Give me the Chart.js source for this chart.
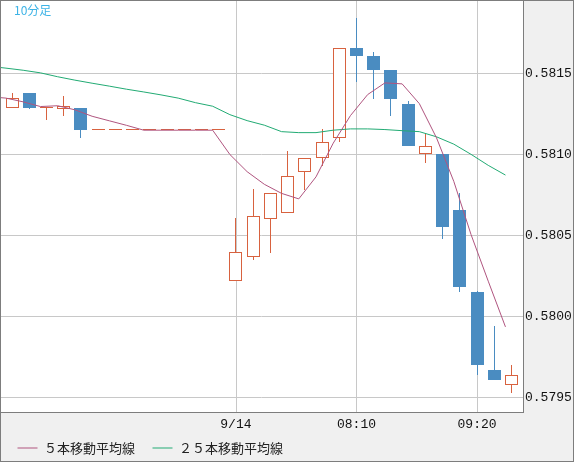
<!DOCTYPE html>
<html lang="ja">
<head>
<meta charset="utf-8">
<title>10分足</title>
<script src="https://cdn.jsdelivr.net/npm/chart.js@4/dist/chart.umd.min.js"></script>
<style>
  html, body { margin: 0; padding: 0; background: #f0f0f0; overflow: hidden; }
  canvas { display: block; }
</style>
</head>
<body>
<canvas id="fxChart" width="574" height="462"></canvas>
<script>
// ===== ローソク足（10分足）=====
const openP  = [0.58129, 0.58138, 0.58129, 0.58128, 0.58129,
                0.58115, 0.58115, 0.58115, 0.58115, 0.58115, 0.58115, 0.58115, 0.58115,
                0.58022, 0.58037, 0.58060, 0.58064, 0.58089, 0.58098, 0.58110, 0.58166,
                0.58161, 0.58152, 0.58131, 0.58100, 0.58100, 0.58066, 0.58015, 0.57967, 0.57958];
const highP  = [0.58138, 0.58138, 0.58129, 0.58136, 0.58129,
                0.58115, 0.58115, 0.58115, 0.58115, 0.58115, 0.58115, 0.58115, 0.58115,
                0.58061, 0.58079, 0.58076, 0.58102, 0.58098, 0.58116, 0.58166, 0.58184,
                0.58163, 0.58152, 0.58133, 0.58113, 0.58100, 0.58076, 0.58016, 0.57994, 0.57970];
const lowP   = [0.58129, 0.58128, 0.58121, 0.58124, 0.58110,
                0.58115, 0.58115, 0.58115, 0.58115, 0.58115, 0.58115, 0.58115, 0.58115,
                0.58022, 0.58035, 0.58039, 0.58064, 0.58078, 0.58093, 0.58108, 0.58145,
                0.58134, 0.58124, 0.58105, 0.58095, 0.58048, 0.58015, 0.57964, 0.57961, 0.57953];
const closeP = [0.58135, 0.58129, 0.58129, 0.58130, 0.58115,
                0.58115, 0.58115, 0.58115, 0.58115, 0.58115, 0.58115, 0.58115, 0.58115,
                0.58040, 0.58062, 0.58076, 0.58087, 0.58098, 0.58108, 0.58166, 0.58161,
                0.58152, 0.58134, 0.58105, 0.58105, 0.58055, 0.58018, 0.57970, 0.57961, 0.57964];

// ===== 移動平均（先頭は画面左外の1本前から）=====
const ma5  = [0.581357, 0.581348, 0.581325, 0.581296, 0.581301, 0.581276, 0.581236, 0.581208,
              0.581180, 0.581150, 0.581150, 0.581150, 0.581150, 0.581150, 0.581000, 0.580894,
              0.580816, 0.580760, 0.580726, 0.580862, 0.581070, 0.581240, 0.581370, 0.581442,
              0.581436, 0.581314, 0.581102, 0.580834, 0.580506, 0.580218, 0.579936];
const ma25 = [0.581545, 0.581533, 0.581520, 0.581504, 0.581480, 0.581459, 0.581440, 0.581422,
              0.581403, 0.581386, 0.581368, 0.581348, 0.581320, 0.581298, 0.581246, 0.581209,
              0.581181, 0.581141, 0.581135, 0.581135, 0.581150, 0.581158, 0.581158, 0.581154,
              0.581147, 0.581141, 0.581109, 0.581064, 0.581001, 0.580933, 0.580873];

// ===== 目盛 =====
const yTicks    = [0.5795, 0.5800, 0.5805, 0.5810, 0.5815];
const xTickIdx  = [13, 20, 27];
const xTickText = ['9/14', '08:10', '09:20'];

// ===== 色 =====
const UP = '#d8623f';
const DOWN = '#4a8cc1';
const GRID = '#c8c8c8';
const FRAME = '#7d7d7d';
const MA_SHIFT = -0.35;   // 移動平均線はローソクの左端に描かれている

const candleColor = openP.map((o, i) => closeP[i] < o ? DOWN : UP);
const bodyFill = openP.map((o, i) => closeP[i] < o ? DOWN : (closeP[i] > o ? '#ffffff' : UP));

const wickData = lowP.map((l, i) => ({ x: i, y: [l, highP[i]] }));
const bodyData = openP.map((o, i) => ({ x: i, y: [o, closeP[i]] }));
const ma5Data  = ma5.map((v, k) => ({ x: k - 1 + MA_SHIFT, y: v }));
const ma25Data = ma25.map((v, k) => ({ x: k - 1 + MA_SHIFT, y: v }));

const monoFont = { family: '"Liberation Mono", "DejaVu Sans Mono", monospace', size: 13 };

// 目盛ラベル分の余白を詰める
function noPad(s) {
  s.paddingTop = 0; s.paddingBottom = 0;
  s.paddingLeft = 0; s.paddingRight = 0;
}

// ===== ローソクをピクセルに合わせる =====
const snapPlugin = {
  id: 'snap',
  afterDatasetsUpdate(chart) {
    chart.data.datasets.forEach((ds, i) => {
      const meta = chart.getDatasetMeta(i);
      if (meta.type !== 'bar') return;
      meta.data.forEach(el => {
        el.x = Math.floor(el.x) + 0.5;
        el.y = Math.round(el.y);
        el.base = Math.round(el.base);
      });
    });
  }
};

// ===== 背景・枠・タイトル =====
const framePlugin = {
  id: 'frame',
  beforeDraw(chart) {
    const { ctx, chartArea: a, width, height } = chart;
    ctx.save();
    ctx.fillStyle = '#f0f0f0';
    ctx.fillRect(0, 0, width, height);
    ctx.fillStyle = '#ffffff';
    ctx.fillRect(a.left, a.top, a.right - a.left, a.bottom - a.top);
    ctx.restore();
  },
  // 時刻の縦線は x 軸の目盛位置から引く
  beforeDatasetsDraw(chart) {
    const { ctx, chartArea: a, scales } = chart;
    ctx.save();
    ctx.strokeStyle = GRID;
    ctx.lineWidth = 1;
    ctx.beginPath();
    scales.x.ticks.forEach(t => {
      const px = Math.round(scales.x.getPixelForValue(t.value)) + 0.5;
      ctx.moveTo(px, a.top);
      ctx.lineTo(px, a.bottom);
    });
    ctx.stroke();
    ctx.restore();
  },
  afterDraw(chart) {
    const { ctx, chartArea: a, width, height } = chart;
    ctx.save();
    ctx.strokeStyle = FRAME;
    ctx.lineWidth = 1;
    ctx.beginPath();
    ctx.moveTo(0, 0.5); ctx.lineTo(width, 0.5);
    ctx.moveTo(0.5, 0); ctx.lineTo(0.5, height);
    ctx.moveTo(width - 0.5, 0); ctx.lineTo(width - 0.5, height);
    ctx.moveTo(0, height - 0.5); ctx.lineTo(width, height - 0.5);
    ctx.moveTo(a.right + 0.5, 0); ctx.lineTo(a.right + 0.5, a.bottom + 1);
    ctx.moveTo(0, a.bottom + 0.5); ctx.lineTo(a.right + 1, a.bottom + 0.5);
    ctx.stroke();

    ctx.fillStyle = '#3db3e6';
    ctx.font = '12px "Noto Sans CJK JP"';
    ctx.textBaseline = 'middle';
    ctx.fillText('10分足', 14, 10);
    ctx.restore();
  }
};

new Chart(document.getElementById('fxChart'), {
  type: 'bar',
  data: {
    datasets: [
      { type: 'bar', label: 'wick', data: wickData, backgroundColor: candleColor,
        borderWidth: 0, barThickness: 1, grouped: false, inflateAmount: 0, order: 4 },
      { type: 'bar', label: 'body', data: bodyData, backgroundColor: bodyFill,
        borderColor: candleColor, borderWidth: 1, borderSkipped: false,
        barThickness: 13, minBarLength: 1, grouped: false, inflateAmount: 0, order: 3 },
      { type: 'line', label: '５本移動平均線', data: ma5Data, borderColor: '#b0557f',
        borderWidth: 1, pointRadius: 0, tension: 0, order: 1 },
      { type: 'line', label: '２５本移動平均線', data: ma25Data, borderColor: '#22ab74',
        borderWidth: 1, pointRadius: 0, tension: 0, order: 2 }
    ]
  },
  options: {
    responsive: false,
    devicePixelRatio: 1,
    animation: false,
    events: [],
    layout: { padding: { top: 1, left: 0, right: 0, bottom: 0 } },
    scales: {
      x: {
        type: 'linear',
        min: -0.697,
        max: 29.668,
        offset: false,
        grid: { display: false, drawTicks: false, tickLength: 0, offset: false },
        border: { display: false },
        afterBuildTicks: (s) => { s.ticks = xTickIdx.map(v => ({ value: v })); },
        afterFit: (s) => { s.height = 12; noPad(s); },
        ticks: {
          // mirror にすると軸の箱で切られない。位置は負の padding で下へ戻す
          padding: -20.6, autoSkip: false, maxRotation: 0, mirror: true,
          font: monoFont, color: '#111',
          callback: (v) => xTickText[xTickIdx.indexOf(v)]
        }
      },
      y: {
        type: 'linear',
        position: 'right',
        beginAtZero: false,
        min: 0.5794105,
        max: 0.5819475,
        grid: { color: GRID, drawTicks: false, tickLength: 0 },
        border: { display: false },
        afterBuildTicks: (s) => { s.ticks = yTicks.map(v => ({ value: v })); },
        afterFit: (s) => { s.width = 51; noPad(s); },
        ticks: {
          padding: 2,
          font: monoFont, color: '#111',
          callback: (v) => v.toFixed(4)
        }
      }
    },
    plugins: {
      tooltip: { enabled: false },
      legend: {
        position: 'bottom',
        align: 'start',
        maxHeight: 38,
        labels: {
          usePointStyle: true,
          pointStyle: 'line',
          pointStyleWidth: 20,
          padding: 17.5,
          color: '#222',
          font: { family: '"Noto Sans CJK JP"', size: 13 },
          filter: (item) => item.datasetIndex >= 2
        }
      }
    }
  },
  plugins: [snapPlugin, framePlugin]
});
</script>
</body>
</html>
